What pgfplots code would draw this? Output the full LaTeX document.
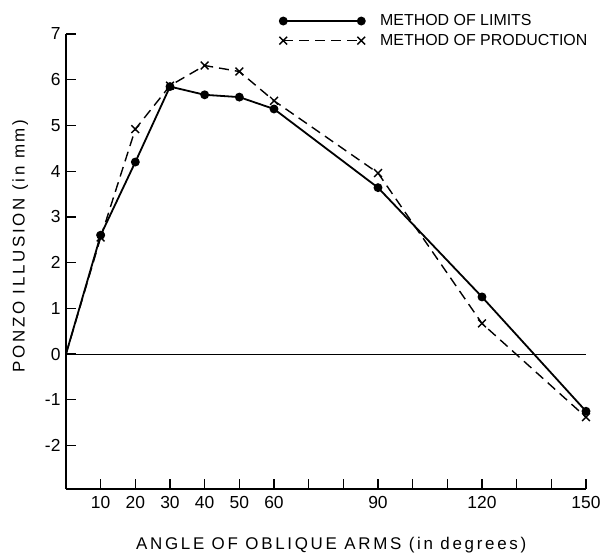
\documentclass[border=0pt]{standalone}
\usepackage{pgfplots}
\pgfplotsset{compat=1.18}
\usepackage{fontspec}
\setmainfont{Liberation Sans}
\newfontfamily\lblfont[LetterSpace=16]{Liberation Sans}
\begin{document}
\begin{tikzpicture}
\useasboundingbox (-66bp,-67bp) rectangle (538bp,489bp);
\begin{axis}[
  scale only axis, width=520bp, height=455bp,
  xmin=0, xmax=150, ymin=-2.95, ymax=7,
  axis x line=bottom, axis y line=left,
  axis line style={-, line width=1.5bp},
  xtick={10,20,...,150},
  xticklabels={10,20,30,40,50,60,,,90,,,120,,,150},
  ytick={-2,-1,0,1,2,3,4,5,6,7},
  tick align=inside, major tick length=10bp,
  tick style={line width=1.3bp, black},
  ticklabel style={font=\fontsize{17.5}{20}\selectfont},
  xticklabel style={yshift=-4bp},
  yticklabel style={xshift=-2bp},
  /pgf/number format/assume math mode=true,
  xlabel={\lblfont\fontsize{17}{20}\selectfont ANGLE OF OBLIQUE ARMS (in degrees)},
  xlabel style={at={(axis description cs:0.51,-0.123)}, anchor=center},
  ylabel={\lblfont\fontsize{17}{20}\selectfont PONZO ILLUSION (in mm)},
  ylabel style={at={(axis description cs:-0.088,0.534)}, anchor=center, rotate=0},
  clip=false,
  legend style={at={(axis description cs:0.41,1.045)}, anchor=north west,
    draw=none, fill=none, inner sep=0pt, row sep=5bp,
    font=\fontsize{16}{18}\selectfont,
    nodes={inner sep=1bp},
    /tikz/every odd column/.append style={column sep=14bp}},
  legend cell align=left,
  legend image code/.code={\draw[#1] plot coordinates {(0bp,0bp) (78bp,0bp)};},
]
\addplot[black, line width=0.8bp, forget plot] coordinates {(0,0) (150,0)};
\addplot[black, line width=1.8bp, forget plot] coordinates {(0,0) (10,2.6)};
\addplot[black, line width=1.4bp, dash pattern=on 10bp off 6bp, forget plot] coordinates {(0,0) (10,2.55)};
\addplot[black, line width=1.8bp, mark=*, mark size=3.5bp, mark options={solid}]
  coordinates {(10,2.6) (20,4.2) (30,5.85) (40,5.67) (50,5.62) (60,5.36) (90,3.64) (120,1.25) (150,-1.25)};
\addlegendentry{METHOD OF LIMITS}
\addplot[black, line width=1.4bp, dash pattern=on 10bp off 6bp, mark=x, mark size=5.5bp, mark options={solid, line width=1.4bp}]
  coordinates {(10,2.55) (20,4.92) (30,5.87) (40,6.31) (50,6.18) (60,5.54) (90,3.96) (120,0.67) (150,-1.38)};
\addlegendentry{METHOD OF PRODUCTION}
\end{axis}
\end{tikzpicture}
\end{document}
